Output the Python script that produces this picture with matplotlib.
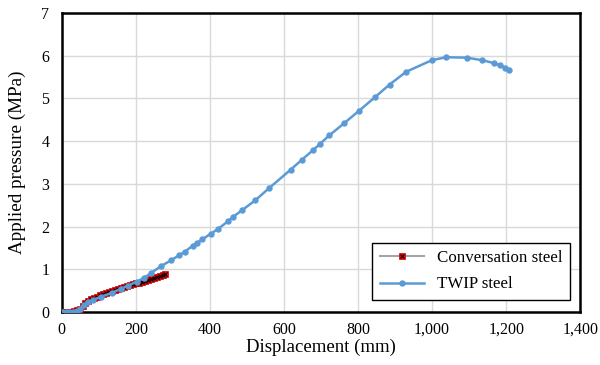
import matplotlib
matplotlib.use("Agg")
import matplotlib.pyplot as plt
from matplotlib.ticker import FuncFormatter

# Conversation steel (dense markers)
conv_x = [0, 8, 16, 24, 32, 40, 48, 56, 64, 72, 80, 88, 96, 104, 112, 120, 128, 136,
          144, 152, 160, 168, 176, 184, 192, 200, 208, 216, 224, 232, 240, 248, 256,
          264, 272, 280]
conv_y = [0.00, 0.00, 0.01, 0.01, 0.02, 0.04, 0.08, 0.15, 0.22, 0.27, 0.30, 0.33, 0.36,
          0.39, 0.42, 0.44, 0.47, 0.49, 0.52, 0.54, 0.57, 0.59, 0.61, 0.63, 0.65, 0.67,
          0.69, 0.71, 0.73, 0.75, 0.77, 0.79, 0.81, 0.84, 0.86, 0.88]

# TWIP steel
twip_x = [0, 10, 20, 30, 40, 50, 60, 70, 85, 107, 135, 161, 180, 202, 222, 242, 269,
          295, 317, 332, 353, 366, 379, 402, 421, 450, 463, 488, 522, 560, 618, 648,
          679, 697, 722, 763, 803, 845, 885, 930, 999, 1038, 1094, 1136, 1168, 1184,
          1197, 1209]
twip_y = [0.00, 0.00, 0.00, 0.01, 0.03, 0.08, 0.17, 0.23, 0.29, 0.36, 0.45, 0.55, 0.62,
          0.71, 0.80, 0.92, 1.08, 1.21, 1.33, 1.41, 1.55, 1.62, 1.70, 1.83, 1.94, 2.13,
          2.23, 2.39, 2.61, 2.90, 3.33, 3.56, 3.79, 3.93, 4.13, 4.42, 4.71, 5.02, 5.32,
          5.62, 5.89, 5.96, 5.95, 5.89, 5.82, 5.77, 5.72, 5.67]

x_ticks = [0, 200, 400, 600, 800, 1000, 1200, 1400]
y_ticks = [0, 1, 2, 3, 4, 5, 6, 7]

plt.rcParams["font.family"] = ["Liberation Serif", "DejaVu Serif"]

fig = plt.figure(figsize=(6.0, 3.65), dpi=100)
ax = fig.add_axes([0.103, 0.145, 0.864, 0.82])

blue = "#5B9BD5"
twip_line, = ax.plot(twip_x, twip_y, color=blue, linewidth=1.8, marker="o", markersize=3.6,
                     markerfacecolor=blue, markeredgecolor=blue, zorder=6)
line_c, = ax.plot(conv_x, conv_y, color="#A5A5A5", linewidth=1.5, marker="s",
                  markersize=4, markerfacecolor="#FF0000", markeredgecolor="#C00000",
                  markeredgewidth=0.5, zorder=4)
cross_c, = ax.plot(conv_x, conv_y, linestyle="none", marker="x", markersize=3,
                   color="black", markeredgewidth=0.8, zorder=5)

ax.set_xlim(0, 1400)
ax.set_ylim(0, 7)
ax.set_xticks(x_ticks)
ax.set_yticks(y_ticks)
ax.xaxis.set_major_formatter(FuncFormatter(lambda v, p: f"{int(v):,}"))
ax.tick_params(length=0, labelsize=11.5)
ax.tick_params(axis="x", pad=7)
ax.tick_params(axis="y", pad=9)
ax.grid(True, color="#D9D9D9", linewidth=1.0)
ax.set_axisbelow(True)
for s in ax.spines.values():
    s.set_linewidth(1.8)
    s.set_color("black")

ax.set_xlabel("Displacement (mm)", fontsize=13.5, labelpad=1)
ax.set_ylabel("Applied pressure (MPa)", fontsize=13.8, labelpad=11)

leg = ax.legend([(line_c, cross_c), twip_line], ["Conversation steel", "TWIP steel"],
                loc="lower right", bbox_to_anchor=(0.981, 0.04), borderaxespad=0,
                fontsize=12.2, fancybox=False, framealpha=1, edgecolor="black",
                borderpad=0.45, handlelength=2.6, handletextpad=0.8, labelspacing=0.6)
leg.get_frame().set_linewidth(1.0)

fig.savefig("out.png", dpi=100)
